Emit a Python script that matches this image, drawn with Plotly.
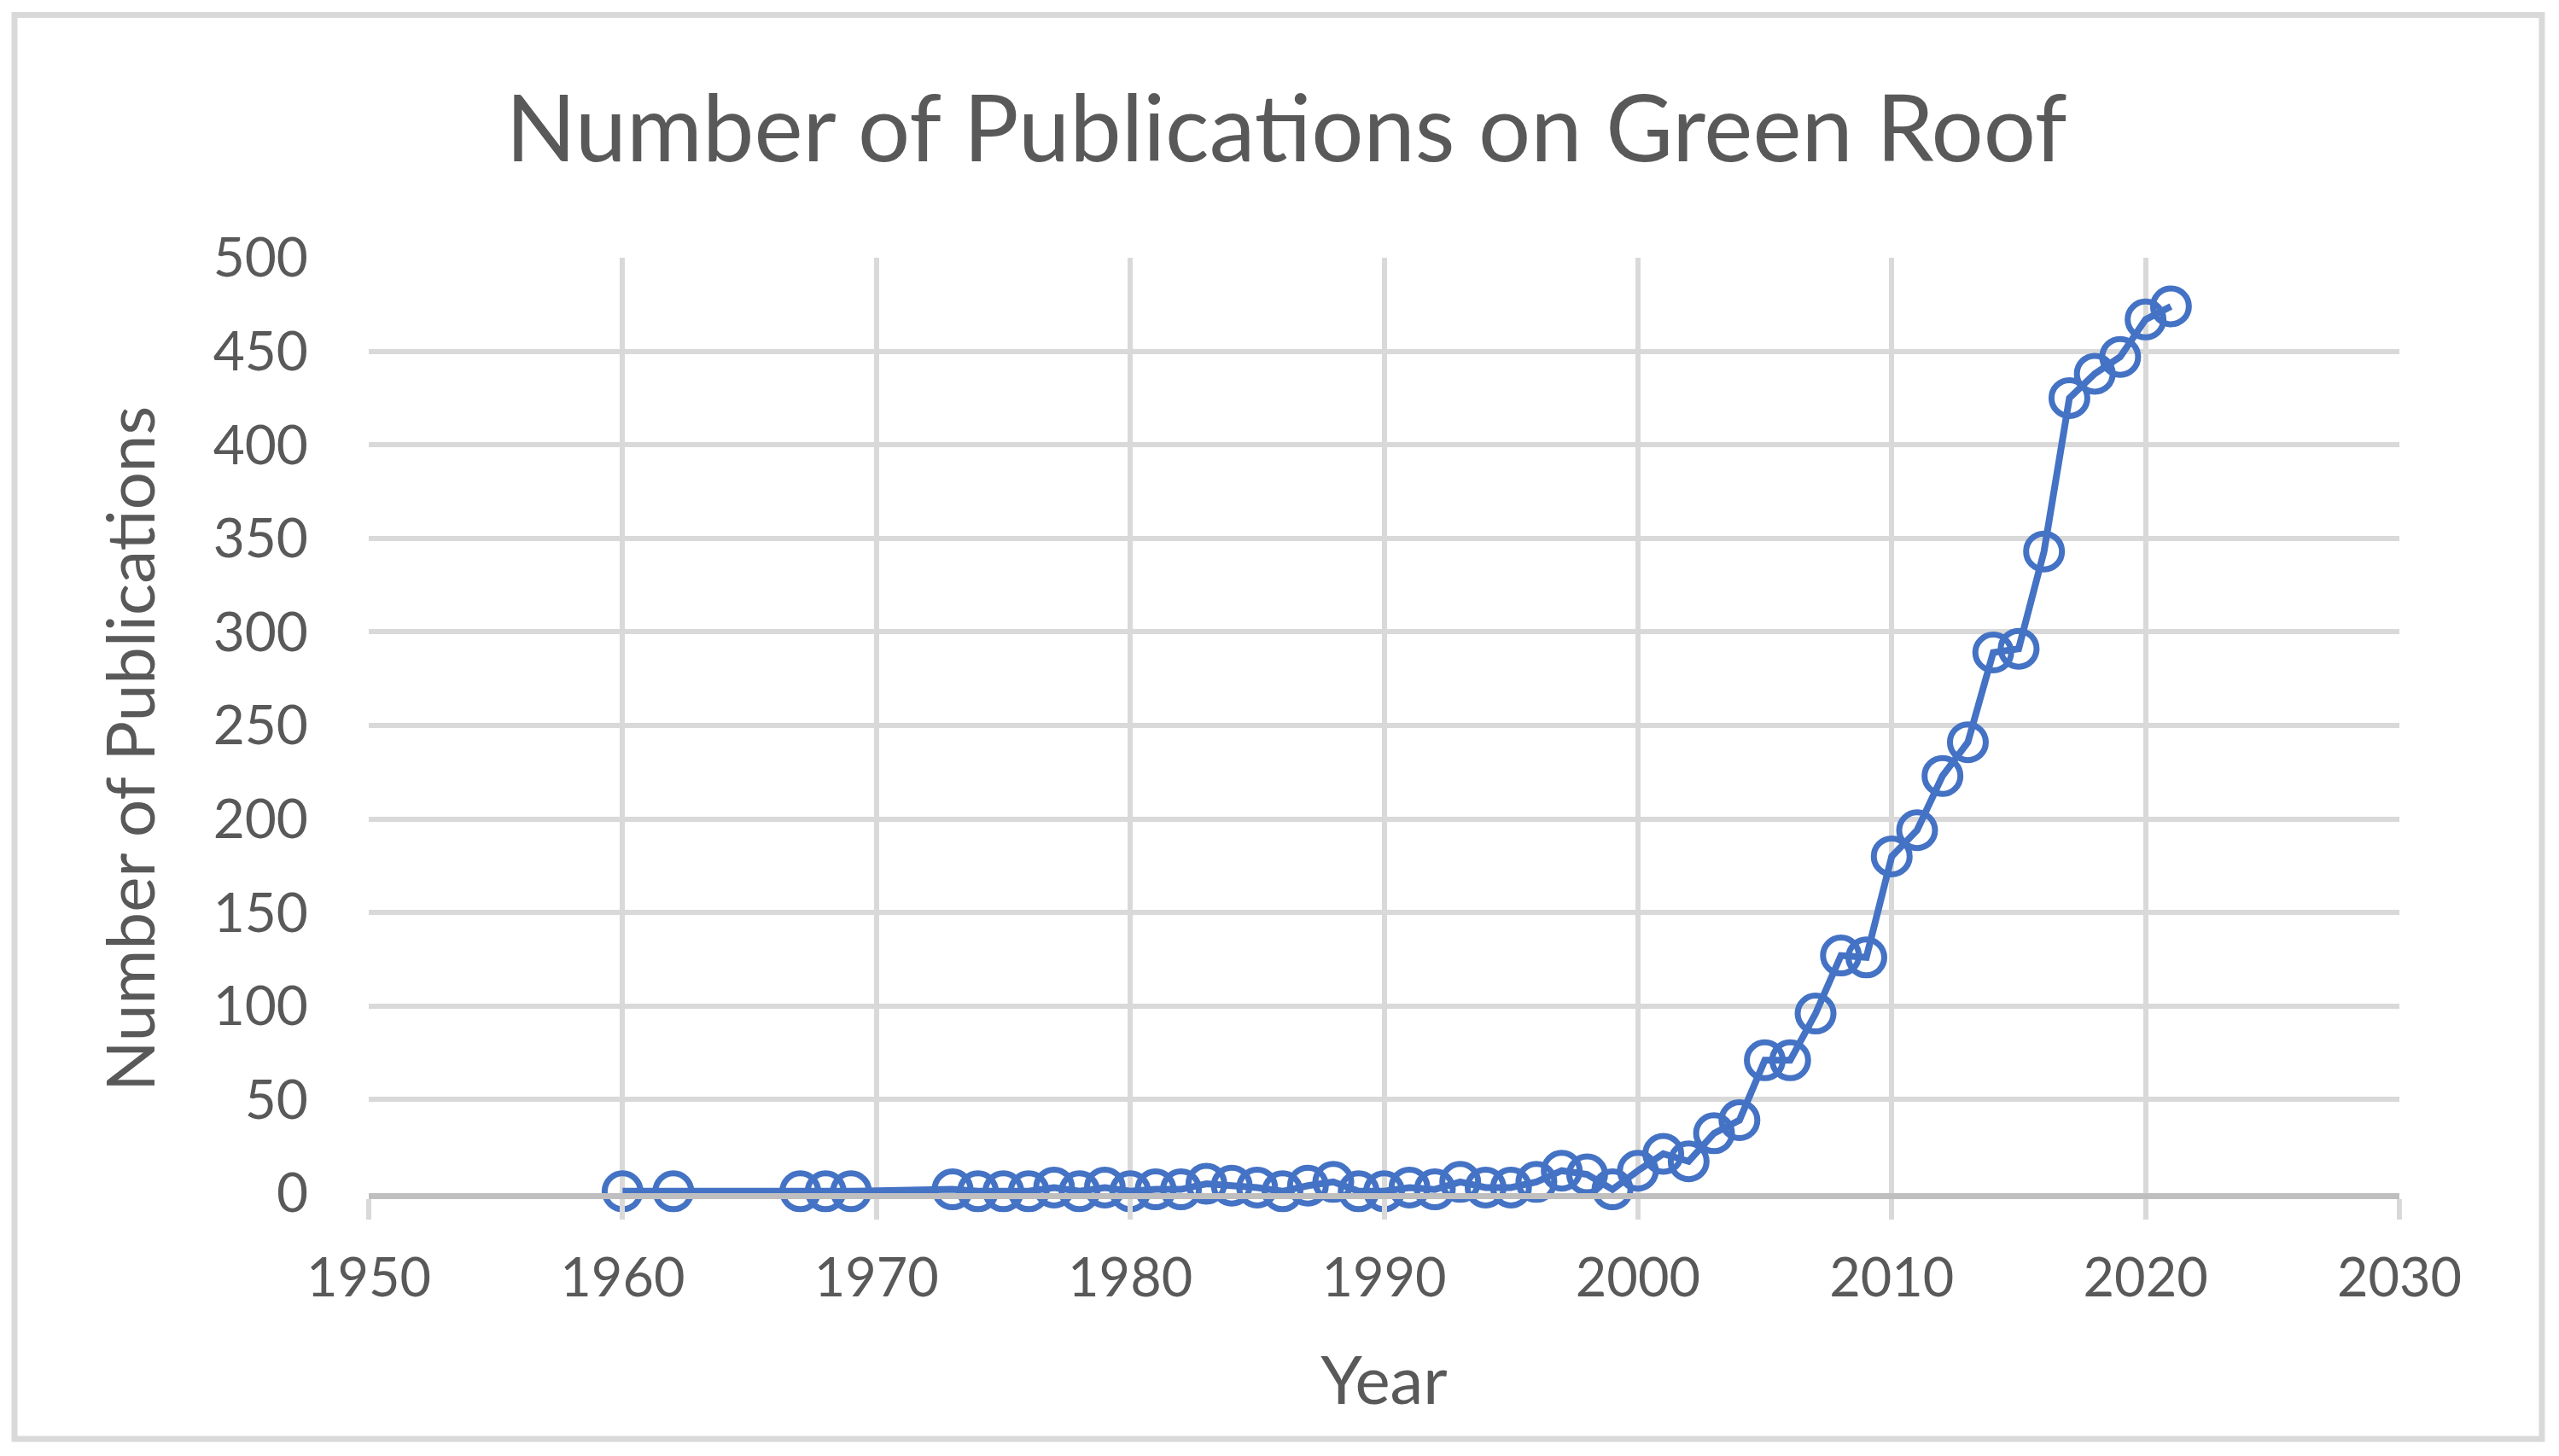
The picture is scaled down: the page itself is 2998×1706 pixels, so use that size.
import plotly.graph_objects as go

years = [1960, 1962, 1967, 1968, 1969, 1973, 1974, 1975, 1976, 1977, 1978, 1979,
         1980, 1981, 1982, 1983, 1984, 1985, 1986, 1987, 1988, 1989, 1990, 1991,
         1992, 1993, 1994, 1995, 1996, 1997, 1998, 1999, 2000, 2001, 2002, 2003,
         2004, 2005, 2006, 2007, 2008, 2009, 2010, 2011, 2012, 2013, 2014, 2015,
         2016, 2017, 2018, 2019, 2020, 2021]
publications = [1, 1, 1, 1, 1, 2, 1, 1, 1, 3, 1, 3,
                1, 2, 2, 5, 4, 3, 1, 4, 6, 1, 1, 3,
                2, 6, 3, 3, 6, 12, 10, 2, 12, 21, 17, 32,
                39, 71, 71, 96, 127, 126, 180, 194, 223, 241, 289, 291,
                343, 425, 438, 447, 467, 474]

title_text = "Number of Publications on Green Roof"
x_title = "Year"
y_title = "Number of Publications"

W, H = 2998, 1706
L, R, T, B = 424, 2803, 294, 1390
font_family = "Lato, 'Open Sans', sans-serif"
text_color = "#595959"
blue = "#4472C4"
grid = "#D9D9D9"

fig = go.Figure()
fig.add_trace(go.Scatter(
    x=years, y=publications, mode="lines+markers",
    line=dict(color=blue, width=8),
    marker=dict(symbol="circle", size=42, color="rgba(0,0,0,0)",
                line=dict(color=blue, width=7)),
    showlegend=False, cliponaxis=False,
))

def px2paper_x(px):
    return (px - L) / (R - L)

def px2paper_y(py):
    return (B - py) / (B - T)

fig.add_shape(type="rect", xref="paper", yref="paper",
              x0=px2paper_x(9), x1=px2paper_x(2970),
              y0=px2paper_y(1678), y1=px2paper_y(9.5),
              line=dict(color=grid, width=7), fillcolor="rgba(0,0,0,0)",
              layer="below")

fig.add_annotation(text=y_title, textangle=-90, showarrow=False,
                   xref="paper", yref="paper",
                   x=px2paper_x(143), y=px2paper_y(870),
                   xanchor="center", yanchor="middle",
                   font=dict(size=78, color=text_color, family=font_family))

fig.update_layout(
    width=W, height=H,
    margin=dict(l=L, r=W - R, t=T, b=H - B, pad=0),
    paper_bgcolor="white", plot_bgcolor="white",
    font=dict(family=font_family, color=text_color),
    title=dict(text=title_text, x=0.5, xref="container", xanchor="center",
               y=1 - 143 / H, yref="container", yanchor="middle",
               font=dict(size=108, color=text_color, family=font_family)),
    xaxis=dict(range=[1950, 2030], dtick=10, tick0=1950,
               showgrid=True, gridcolor=grid, gridwidth=6,
               showline=True, linecolor="#BFBFBF", linewidth=7,
               ticks="outside", ticklen=24, tickwidth=6, tickcolor=grid,
               tickfont=dict(size=63, color=text_color),
               ticklabelstandoff=14,
               zeroline=False,
               title=dict(text=x_title, font=dict(size=78, color=text_color),
                          standoff=62)),
    yaxis=dict(range=[0, 500], dtick=50, tick0=0,
               showgrid=True, gridcolor=grid, gridwidth=6,
               showline=False, zeroline=False,
               ticks="", ticklabelstandoff=70,
               tickfont=dict(size=64, color=text_color)),
)

fig.write_html("out.html")
